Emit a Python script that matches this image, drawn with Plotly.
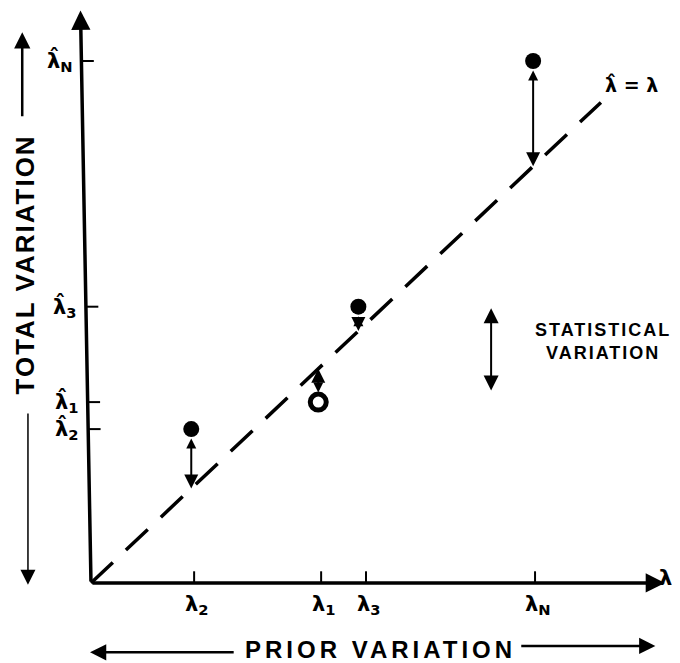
import plotly.graph_objects as go

# ---- data ----
prior_vals = [10.8, 24.1, 28.8, 46.5]            # λ2, λ1, λ3, λN on the PRIOR axis
prior_labels = ["λ<sub>2</sub>", "λ<sub>1</sub>", "λ<sub>3</sub>", "λ<sub>N</sub>"]
total_vals = [17.1, 20.1, 30.7, 58.0]            # λ̂2, λ̂1, λ̂3, λ̂N on the TOTAL axis
total_labels = ["λ\u0302<sub>2</sub>", "λ\u0302<sub>1</sub>", "λ\u0302<sub>3</sub>", "λ\u0302<sub>N</sub>"]
point_prior = [10.5, 23.8, 28.0, 46.3]           # measured point positions
point_total = [17.1, 20.1, 30.7, 58.0]
point_filled = [True, False, True, True]
identity_end = 53.4                               # end of the dashed λ̂ = λ line
x_axis_end = 60.1
y_axis_top = 63.6
y_axis_top_x = -1.1
stat_arrow_x = 41.9
stat_arrow_lo, stat_arrow_hi = 21.4, 30.7

# page has an 8px body margin: figure spans page px 8..680 x 8..663
X_RANGE = [-8.69, 61.68]
Y_RANGE = [-8.89, 63.89]
FIG_W, FIG_H = 672, 655

FONT = "Liberation Sans, DejaVu Sans, Arial"
GREEK = "DejaVu Sans"
BLACK = "black"

fig = go.Figure()

# dashed identity line
fig.add_trace(go.Scatter(x=[0, identity_end], y=[0, identity_end], mode="lines",
                         line=dict(color=BLACK, width=3.5, dash="30px,18px"),
                         hoverinfo="skip"))

# x ticks (pointing up from the axis)
tick_len_y = 1.3
xt_x, xt_y = [], []
for v in prior_vals:
    xt_x += [v, v, None]
    xt_y += [0, tick_len_y, None]
fig.add_trace(go.Scatter(x=xt_x, y=xt_y, mode="lines", line=dict(color=BLACK, width=2),
                         hoverinfo="skip"))

# y ticks (pointing right from the slightly slanted axis)
tick_len_x = 1.3
def axis_x(y):
    return y_axis_top_x * y / y_axis_top
yt_x, yt_y = [], []
for v in total_vals:
    x0 = axis_x(v)
    yt_x += [x0, x0 + tick_len_x, None]
    yt_y += [v, v, None]
fig.add_trace(go.Scatter(x=yt_x, y=yt_y, mode="lines", line=dict(color=BLACK, width=2),
                         hoverinfo="skip"))

# points
fig.add_trace(go.Scatter(
    x=point_prior, y=point_total, mode="markers",
    marker=dict(size=16, symbol="circle",
                color=[BLACK if f else "white" for f in point_filled],
                line=dict(color=BLACK, width=[0 if f else 5 for f in point_filled])),
    hoverinfo="skip"))

ann = []

def arrow(x, y, ax, ay, width=2.0, size=1.4, head=2, both=False, ssize=None, standoff=0, startstandoff=0):
    d = dict(x=x, y=y, ax=ax, ay=ay, xref="x", yref="y", axref="x", ayref="y",
             text="", showarrow=True, arrowhead=head, arrowsize=size, arrowwidth=width,
             arrowcolor=BLACK, standoff=standoff, startstandoff=startstandoff)
    if both:
        d.update(arrowside="end+start", startarrowhead=head,
                 startarrowsize=ssize if ssize else size)
    ann.append(d)

# axes with arrowheads
arrow(x_axis_end, 0, 0, 0, width=3.5, size=1.1)
arrow(y_axis_top_x, y_axis_top, 0, 0, width=3.5, size=1.1)

# statistical variation arrows from each point to the line
for px_, py_ in zip(point_prior, point_total):
    arrow(px_, px_, px_, py_, width=2, size=1.4, both=True, ssize=1.0, startstandoff=8)

# legend-like statistical variation arrow
arrow(stat_arrow_x, stat_arrow_lo, stat_arrow_x, stat_arrow_hi, width=2, size=1.5, both=True)

# axis-title arrows
arrow(-7.2, 61.2, -7.2, 51.7, width=2.5, size=1.3)
arrow(-6.6, -0.2, -6.6, 19.0, width=1.5, size=2.0)
arrow(-0.1, -7.7, 15.1, -7.7, width=2.5, size=1.3)
arrow(59.1, -7.0, 44.9, -7.0, width=2.5, size=1.3)

def label(x, y, text, size=20, xanchor="center", yanchor="middle", angle=0, spacing=0, family=FONT):
    t = text
    if spacing:
        t = '<span style="letter-spacing:%dpx">%s</span>' % (spacing, text)
    ann.append(dict(x=x, y=y, xref="x", yref="y", text=t, showarrow=False,
                    xanchor=xanchor, yanchor=yanchor, textangle=angle,
                    font=dict(family=family, size=size, color=BLACK, weight=700)))

# tick labels
for v, t in zip(prior_vals, prior_labels):
    label(v + 0.3, -0.8, t, size=21, yanchor="top", family=GREEK)
for v, t in zip(total_vals, total_labels):
    label(axis_x(v) - 0.7, v, t, size=21, xanchor="right", family=GREEK)

label(61.1, 0.5, "λ", size=21, xanchor="right", family=GREEK)
label(56.6, 55.4, "λ\u0302 = λ", size=19, family=GREEK)
label(53.6, 26.8, "STATISTICAL<br>VARIATION", size=18, spacing=2)
label(-6.9, 35.4, "TOTAL VARIATION", size=26, angle=-90, spacing=2)
label(30.3, -7.4, "PRIOR VARIATION", size=24, spacing=4)

fig.update_layout(
    width=FIG_W, height=FIG_H, margin=dict(l=0, r=0, t=0, b=0),
    paper_bgcolor="white", plot_bgcolor="white", showlegend=False,
    xaxis=dict(range=X_RANGE, visible=False, fixedrange=True),
    yaxis=dict(range=Y_RANGE, visible=False, fixedrange=True),
    annotations=ann,
)

fig.write_html("out.html", config={"displayModeBar": False})
